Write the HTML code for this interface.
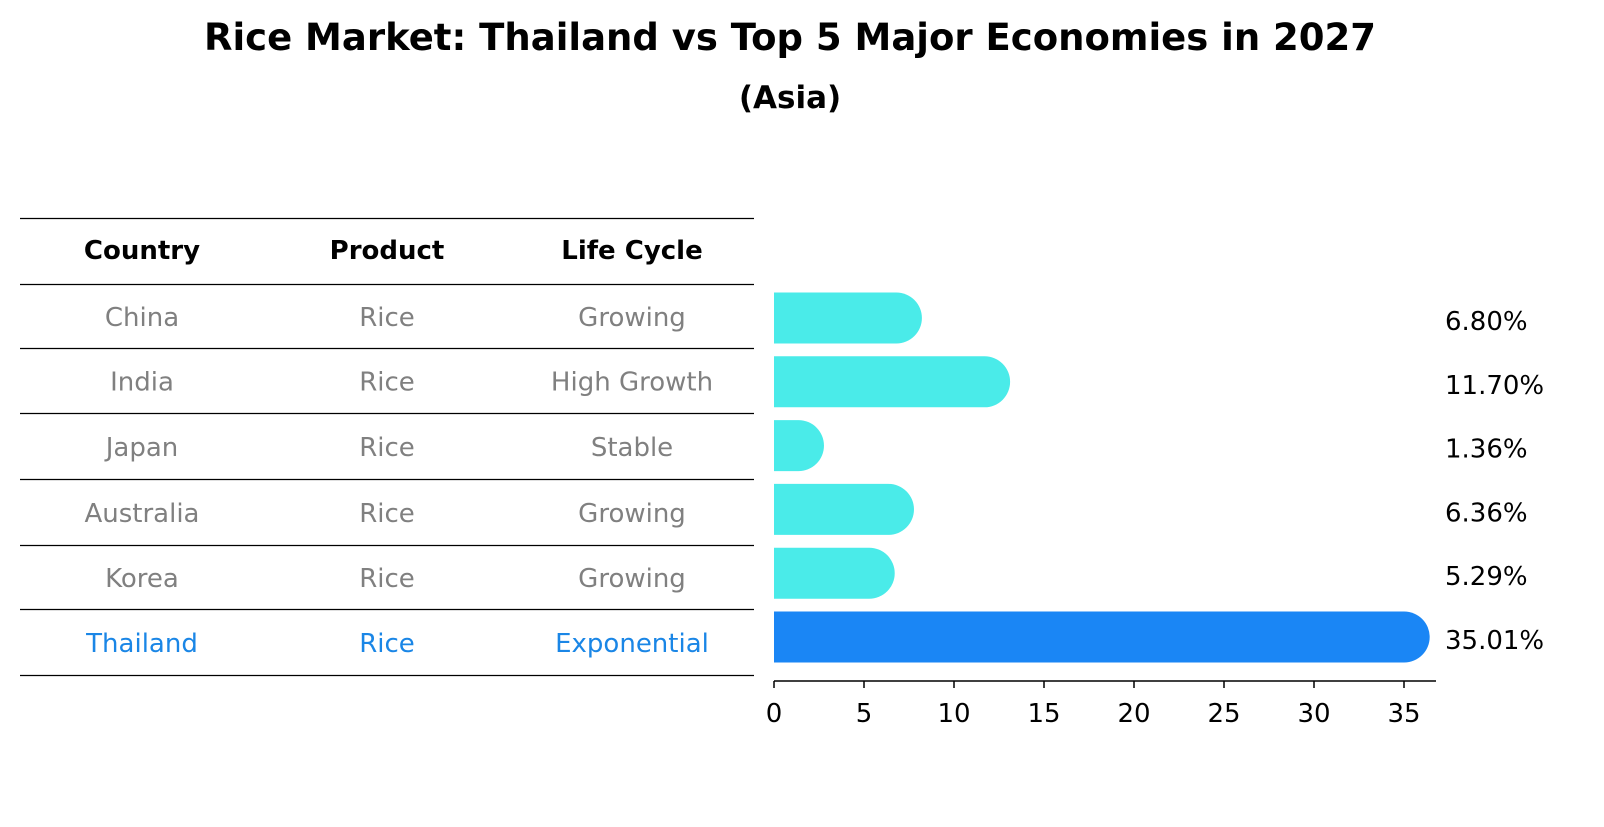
<!DOCTYPE html>
<html><head><meta charset="utf-8"><style>
body{margin:0;background:#fff;font-family:"DejaVu Sans","Liberation Sans",sans-serif;}
</style></head><body>
<svg width="1604" height="823" xmlns="http://www.w3.org/2000/svg" font-family="'DejaVu Sans','Liberation Sans',sans-serif">
<text x="790" y="50" text-anchor="middle" font-size="37" font-weight="bold">Rice Market: Thailand vs Top 5 Major Economies in 2027</text>
<text x="790" y="108" text-anchor="middle" font-size="31" font-weight="bold">(Asia)</text>
<g id="table"></g>
<g id="bars"></g>
</svg>
<script>
const countries=["China","India","Japan","Australia","Korea","Thailand"];
const products=["Rice","Rice","Rice","Rice","Rice","Rice"];
const lifeCycles=["Growing","High Growth","Stable","Growing","Growing","Exponential"];
const values=[6.80,11.70,1.36,6.36,5.29,35.01];
const ticks=[0,5,10,15,20,25,30,35];
const NS="http://www.w3.org/2000/svg";
function mk(tag,attrs,parent,txt){const e=document.createElementNS(NS,tag);for(const k in attrs)e.setAttribute(k,attrs[k]);if(txt!==undefined)e.textContent=txt;parent.appendChild(e);return e;}
const tbl=document.getElementById('table');
const lineYs=[218,284,348,413,479,545,609,675];
lineYs.forEach(y=>{const l=mk('line',{x1:20,x2:754,y1:y+0.5,y2:y+0.5,stroke:'#000','stroke-width':1.3},tbl);

});
const colX=[142,387,632];
["Country","Product","Life Cycle"].forEach((h,i)=>{const t=mk('text',{x:colX[i],y:259,'text-anchor':'middle','font-size':26,'font-weight':'bold'},tbl,h);

});
countries.forEach((c,r)=>{const y=(lineYs[r+1]+lineYs[r+2])/2+10;const col=r===countries.length-1?'#1a86e6':'#808080';
[c,products[r],lifeCycles[r]].forEach((v,i)=>{const t=mk('text',{x:colX[i],y:y,'text-anchor':'middle','font-size':26,fill:col},tbl,v);

});});
const bars=document.getElementById('bars');
const x0=774,pxPer=18;
const xs=v=>x0+v*pxPer;
const rowY=r=>318+r*63.8;
const bh=51,rad=25.5;
values.forEach((v,r)=>{const cy=rowY(r);const col=r===values.length-1?'#1a86f5':'#4aebe9';
const xe=xs(v);
const d=`M${x0},${cy-bh/2} H${xe} A${rad},${rad} 0 0 1 ${xe},${cy+bh/2} H${x0} Z`;
const p=mk('path',{d:d,fill:col},bars);


const t=mk('text',{x:1445,y:cy+12,'font-size':26},bars,v.toFixed(2)+'%');

});
const ax=mk('line',{x1:x0,x2:1436,y1:681,y2:681,stroke:'#000','stroke-width':1.5},bars);


ticks.forEach(t=>{const tk=mk('line',{x1:xs(t),x2:xs(t),y1:681,y2:688,stroke:'#000','stroke-width':1.5},bars);


const lb=mk('text',{x:xs(t),y:722,'text-anchor':'middle','font-size':26},bars,String(t));

});
</script>
</body></html>
